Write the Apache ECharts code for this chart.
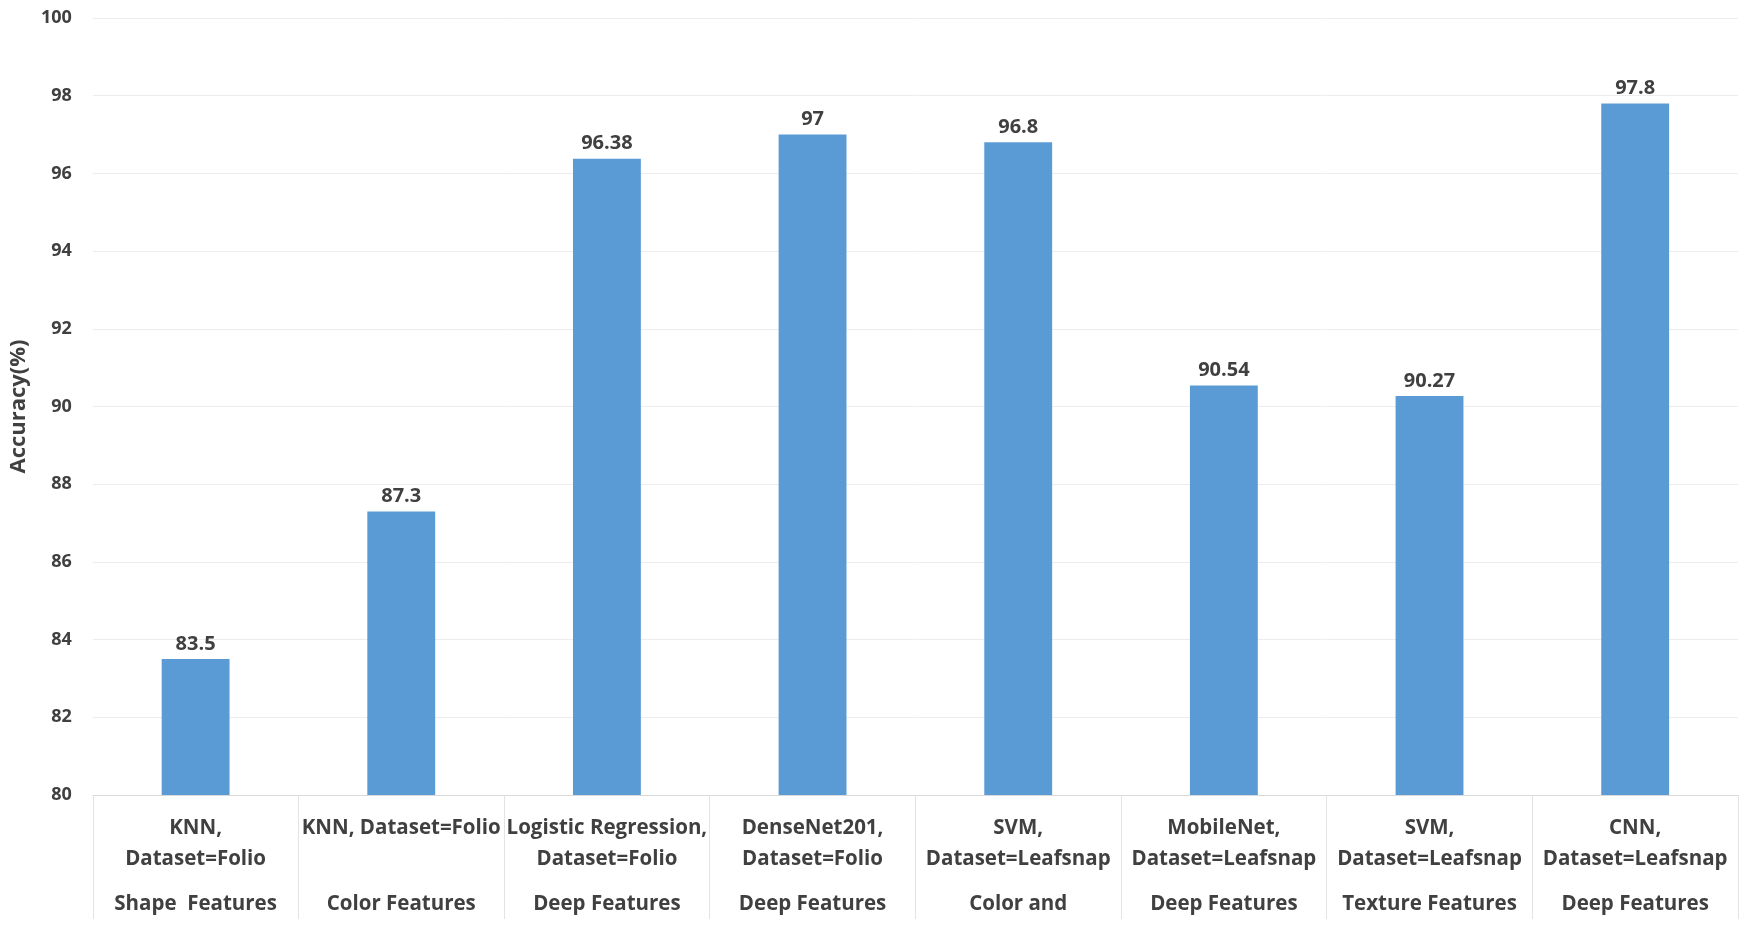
<!DOCTYPE html>
<html><head><meta charset="utf-8">
<script src="https://cdn.jsdelivr.net/npm/echarts@6/dist/echarts.min.js"></script>
<style>html,body{margin:0;padding:0;background:#fff}#c{width:1750px;height:928px}</style>
</head><body><div id="c"></div>
<script>
const methods = ["KNN,\nDataset=Folio", "KNN, Dataset=Folio\n", "Logistic Regression,\nDataset=Folio", "DenseNet201,\nDataset=Folio", "SVM,\nDataset=Leafsnap", "MobileNet,\nDataset=Leafsnap", "SVM,\nDataset=Leafsnap", "CNN,\nDataset=Leafsnap"];
const features = ["Shape  Features", "Color Features", "Deep Features", "Deep Features", "Color and", "Deep Features", "Texture Features", "Deep Features"];
const accuracy = [83.5, 87.3, 96.38, 97, 96.8, 90.54, 90.27, 97.8];
const yMin = 80, yMax = 100, yStep = 2;

const categories = methods.map((m, i) => m + "\n{f|" + features[i] + "}");
const FONT = "Open Sans";
const chart = echarts.init(document.getElementById('c'));
chart.setOption({
  animation: false,
  grid: {left: 86, right: 12, top: 18, bottom: 133},
  xAxis: {
    type: 'category', data: categories,
    axisLine: {show: true, lineStyle: {color: '#D9D9D9', width: 1}},
    axisTick: {show: true, length: 124, lineStyle: {color: '#E3E3E3', width: 1}},
    axisLabel: {
      interval: 0, margin: 18, color: '#404040', fontFamily: FONT, fontWeight: 'bold', fontSize: 20.5, lineHeight: 31,
      rich: {f: {color: '#404040', fontFamily: FONT, fontWeight: 'bold', fontSize: 20.5, lineHeight: 40, verticalAlign: 'bottom'}}
    }
  },
  yAxis: {
    type: 'value', min: yMin, max: yMax, interval: yStep,
    name: 'Accuracy(%)', nameLocation: 'middle', nameGap: 62, nameRotate: 90,
    nameTextStyle: {color: '#404040', fontFamily: FONT, fontWeight: 'bold', fontSize: 22},
    axisLine: {show: false}, axisTick: {show: false},
    axisLabel: {color: '#404040', fontFamily: FONT, fontWeight: 'bold', fontSize: 18, margin: 21},
    splitLine: {lineStyle: {color: '#EDEDED', width: 1}}
  },
  series: [{
    type: 'bar', data: accuracy, barWidth: '33%',
    itemStyle: {color: '#5B9BD5'},
    label: {show: true, position: 'top', distance: 5, color: '#404040', fontFamily: FONT, fontWeight: 'bold', fontSize: 20}
  }]
});
</script></body></html>
